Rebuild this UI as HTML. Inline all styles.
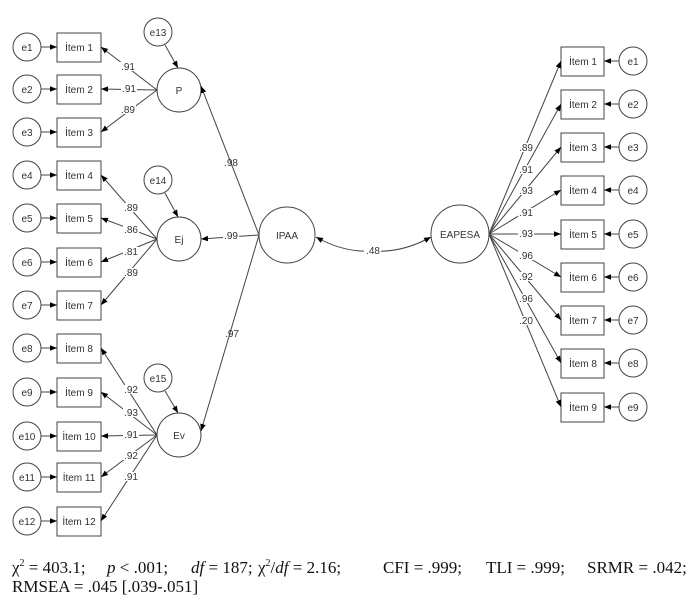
<!DOCTYPE html>
<html><head><meta charset="utf-8"><style>
html,body{margin:0;padding:0;background:#fff;}
svg{display:block;}
.s{font-family:"Liberation Sans",Arial,sans-serif;font-size:10px;fill:#333;}
.t{font-family:"Liberation Serif","Times New Roman",serif;font-size:17px;fill:#111;}
</style></head><body>
<svg width="697" height="608" viewBox="0 0 697 608" xmlns="http://www.w3.org/2000/svg">
<defs>
<marker id="a" viewBox="0 0 10 10" refX="10" refY="5" markerWidth="7" markerHeight="7" orient="auto" markerUnits="userSpaceOnUse">
<path d="M0,1 L10,5 L0,9 z" fill="#000"/></marker>
</defs>
<g stroke="#444" stroke-width="1" fill="#fff">
<circle cx="27" cy="47" r="14"/><rect x="57" y="33" width="44" height="29"/>
<circle cx="27" cy="89" r="14"/><rect x="57" y="75" width="44" height="29"/>
<circle cx="27" cy="132" r="14"/><rect x="57" y="118" width="44" height="29"/>
<circle cx="27" cy="175" r="14"/><rect x="57" y="161" width="44" height="29"/>
<circle cx="27" cy="218" r="14"/><rect x="57" y="204" width="44" height="29"/>
<circle cx="27" cy="262" r="14"/><rect x="57" y="248" width="44" height="29"/>
<circle cx="27" cy="305" r="14"/><rect x="57" y="291" width="44" height="29"/>
<circle cx="27" cy="348" r="14"/><rect x="57" y="334" width="44" height="29"/>
<circle cx="27" cy="392" r="14"/><rect x="57" y="378" width="44" height="29"/>
<circle cx="27" cy="436" r="14"/><rect x="57" y="422" width="44" height="29"/>
<circle cx="27" cy="477" r="14"/><rect x="57" y="463" width="44" height="29"/>
<circle cx="27" cy="521" r="14"/><rect x="57" y="507" width="44" height="29"/>
<circle cx="158" cy="32" r="14"/><circle cx="179" cy="90" r="22"/>
<circle cx="158" cy="180" r="14"/><circle cx="179" cy="239" r="22"/>
<circle cx="158" cy="378" r="14"/><circle cx="179" cy="435" r="22"/>
<circle cx="287" cy="235" r="28"/>
<circle cx="460" cy="234" r="29"/>
<rect x="561" y="47" width="43" height="29"/><circle cx="633" cy="61" r="14"/>
<rect x="561" y="90" width="43" height="29"/><circle cx="633" cy="104" r="14"/>
<rect x="561" y="133" width="43" height="29"/><circle cx="633" cy="147" r="14"/>
<rect x="561" y="176" width="43" height="29"/><circle cx="633" cy="190" r="14"/>
<rect x="561" y="220" width="43" height="29"/><circle cx="633" cy="234" r="14"/>
<rect x="561" y="263" width="43" height="29"/><circle cx="633" cy="277" r="14"/>
<rect x="561" y="306" width="43" height="29"/><circle cx="633" cy="320" r="14"/>
<rect x="561" y="349" width="43" height="29"/><circle cx="633" cy="363" r="14"/>
<rect x="561" y="393" width="43" height="29"/><circle cx="633" cy="407" r="14"/>
</g>
<g stroke="#444" stroke-width="1" fill="none" marker-end="url(#a)">
<line x1="41" y1="47" x2="57" y2="47"/><line x1="41" y1="89" x2="57" y2="89"/>
<line x1="41" y1="132" x2="57" y2="132"/><line x1="41" y1="175" x2="57" y2="175"/>
<line x1="41" y1="218" x2="57" y2="218"/><line x1="41" y1="262" x2="57" y2="262"/>
<line x1="41" y1="305" x2="57" y2="305"/><line x1="41" y1="348" x2="57" y2="348"/>
<line x1="41" y1="392" x2="57" y2="392"/><line x1="41" y1="436" x2="57" y2="436"/>
<line x1="41" y1="477" x2="57" y2="477"/><line x1="41" y1="521" x2="57" y2="521"/>
<line x1="157" y1="90" x2="101" y2="47"/><line x1="157" y1="90" x2="101" y2="89"/><line x1="157" y1="90" x2="101" y2="132"/>
<line x1="157" y1="239" x2="101" y2="175"/><line x1="157" y1="239" x2="101" y2="218"/><line x1="157" y1="239" x2="101" y2="262"/><line x1="157" y1="239" x2="101" y2="305"/>
<line x1="157" y1="435" x2="101" y2="348"/><line x1="157" y1="435" x2="101" y2="392"/><line x1="157" y1="435" x2="101" y2="436"/><line x1="157" y1="435" x2="101" y2="477"/><line x1="157" y1="435" x2="101" y2="521"/>
<line x1="165" y1="45" x2="178" y2="68"/><line x1="165" y1="193" x2="178" y2="217"/><line x1="165" y1="391" x2="178" y2="413"/>
<line x1="259" y1="235" x2="201" y2="86"/><line x1="259" y1="235" x2="201" y2="239"/><line x1="259" y1="235" x2="201" y2="431"/>
<line x1="489" y1="234" x2="561" y2="61"/><line x1="489" y1="234" x2="561" y2="104"/><line x1="489" y1="234" x2="561" y2="147"/>
<line x1="489" y1="234" x2="561" y2="190"/><line x1="489" y1="234" x2="561" y2="234"/><line x1="489" y1="234" x2="561" y2="277"/>
<line x1="489" y1="234" x2="561" y2="320"/><line x1="489" y1="234" x2="561" y2="363"/><line x1="489" y1="234" x2="561" y2="407"/>
<line x1="619" y1="61" x2="604" y2="61"/><line x1="619" y1="104" x2="604" y2="104"/><line x1="619" y1="147" x2="604" y2="147"/>
<line x1="619" y1="190" x2="604" y2="190"/><line x1="619" y1="234" x2="604" y2="234"/><line x1="619" y1="277" x2="604" y2="277"/>
<line x1="619" y1="320" x2="604" y2="320"/><line x1="619" y1="363" x2="604" y2="363"/><line x1="619" y1="407" x2="604" y2="407"/>
<path d="M373,251 Q344,253 316,237"/>
<path d="M373,251 Q402,253 431,237"/>
</g>
<g fill="#fff">
<rect x="120" y="62" width="16" height="9"/><rect x="121" y="84" width="16" height="9"/><rect x="120" y="105" width="16" height="9"/>
<rect x="123" y="203" width="16" height="9"/><rect x="123" y="225" width="16" height="9"/><rect x="123" y="247" width="16" height="9"/><rect x="123" y="268" width="16" height="9"/>
<rect x="123" y="385" width="16" height="9"/><rect x="123" y="408" width="16" height="9"/><rect x="123" y="430" width="16" height="9"/><rect x="123" y="451" width="16" height="9"/><rect x="123" y="472" width="16" height="9"/>
<rect x="223" y="231" width="16" height="9"/><rect x="364" y="245" width="17" height="10"/>
<rect x="518" y="143" width="16" height="9"/><rect x="518" y="165" width="16" height="9"/><rect x="518" y="186" width="16" height="9"/><rect x="518" y="208" width="16" height="9"/><rect x="518" y="229" width="16" height="9"/>
<rect x="518" y="251" width="16" height="9"/><rect x="518" y="272" width="16" height="9"/><rect x="518" y="294" width="16" height="9"/><rect x="518" y="316" width="16" height="9"/>
</g>
<g class="s" text-anchor="middle">
<text x="27" y="51">e1</text><text x="27" y="93">e2</text><text x="27" y="136">e3</text><text x="27" y="179">e4</text>
<text x="27" y="222">e5</text><text x="27" y="266">e6</text><text x="27" y="309">e7</text><text x="27" y="352">e8</text>
<text x="27" y="396">e9</text><text x="27" y="440">e10</text><text x="27" y="481">e11</text><text x="27" y="525">e12</text>
<text x="79" y="51">İtem 1</text><text x="79" y="93">İtem 2</text><text x="79" y="136">İtem 3</text><text x="79" y="179">İtem 4</text>
<text x="79" y="222">İtem 5</text><text x="79" y="266">İtem 6</text><text x="79" y="309">İtem 7</text><text x="79" y="352">İtem 8</text>
<text x="79" y="396">İtem 9</text><text x="79" y="440">İtem 10</text><text x="79" y="481">İtem 11</text><text x="79" y="525">İtem 12</text>
<text x="158" y="36">e13</text><text x="158" y="184">e14</text><text x="158" y="382">e15</text>
<text x="179" y="94">P</text><text x="179" y="243">Ej</text><text x="179" y="439">Ev</text>
<text x="287" y="239">IPAA</text><text x="460" y="238">EAPESA</text>
<text x="128" y="70">.91</text><text x="129" y="92">.91</text><text x="128" y="113">.89</text>
<text x="131" y="211">.89</text><text x="131" y="233">.86</text><text x="131" y="255">.81</text><text x="131" y="276">.89</text>
<text x="131" y="393">.92</text><text x="131" y="416">.93</text><text x="131" y="438">.91</text><text x="131" y="459">.92</text><text x="131" y="480">.91</text>
<text x="231" y="166">.98</text><text x="231" y="239">.99</text><text x="232" y="337">.97</text>
<text x="373" y="254">.48</text>
<text x="526" y="151">.89</text><text x="526" y="173">.91</text><text x="526" y="194">.93</text><text x="526" y="216">.91</text><text x="526" y="237">.93</text>
<text x="526" y="259">.96</text><text x="526" y="280">.92</text><text x="526" y="302">.96</text><text x="526" y="324">.20</text>
<text x="583" y="65">İtem 1</text><text x="583" y="108">İtem 2</text><text x="583" y="151">İtem 3</text><text x="583" y="194">İtem 4</text><text x="583" y="238">İtem 5</text>
<text x="583" y="281">İtem 6</text><text x="583" y="324">İtem 7</text><text x="583" y="367">İtem 8</text><text x="583" y="411">İtem 9</text>
<text x="633" y="65">e1</text><text x="633" y="108">e2</text><text x="633" y="151">e3</text><text x="633" y="194">e4</text><text x="633" y="238">e5</text>
<text x="633" y="281">e6</text><text x="633" y="324">e7</text><text x="633" y="367">e8</text><text x="633" y="411">e9</text>
</g>
<g class="t">
<text x="12" y="573">χ<tspan font-size="10" dy="-7">2</tspan><tspan dy="7"> = 403.1;</tspan></text>
<text x="107" y="573"><tspan font-style="italic">p</tspan> &lt; .001;</text>
<text x="191" y="573"><tspan font-style="italic">df</tspan> = 187;</text>
<text x="258" y="573">χ<tspan font-size="10" dy="-7">2</tspan><tspan dy="7">/</tspan><tspan font-style="italic">df</tspan> = 2.16;</text>
<text x="383" y="573">CFI = .999;</text>
<text x="486" y="573">TLI = .999;</text>
<text x="587" y="573">SRMR = .042;</text>
<text x="12" y="592">RMSEA = .045 [.039-.051]</text>
</g>
</svg>
</body></html>
